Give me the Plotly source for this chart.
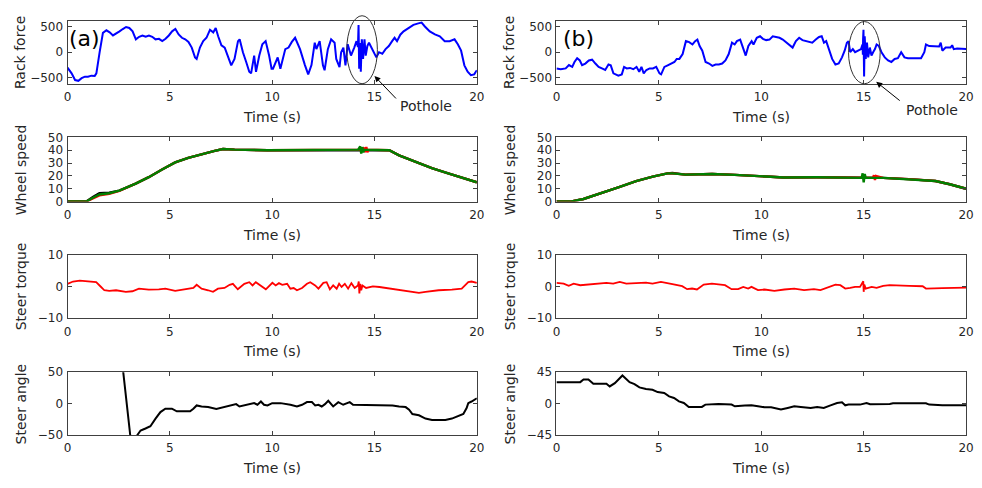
import plotly.graph_objects as go

# ---------------- DATA ----------------
# (a) Rack force
rack_a_t = [0, 0.2, 0.37, 0.53, 0.69, 0.85, 1.0, 1.17, 1.33, 1.41, 1.57, 1.73, 1.9, 2.06, 2.22, 2.38, 2.54,
            2.7, 2.86, 3.02, 3.18, 3.34, 3.5, 3.66, 3.82, 3.98, 4.14, 4.3, 4.47, 4.63, 4.79, 4.95, 5.11, 5.27,
            5.43, 5.59, 5.75, 5.91, 6.07, 6.23, 6.31, 6.47, 6.63, 6.79, 6.96, 7.12, 7.24, 7.36, 7.52, 7.68,
            7.84, 8.0, 8.16, 8.33, 8.41, 8.57, 8.73, 8.88, 8.97, 9.12, 9.21, 9.37, 9.52, 9.68, 9.85, 9.97,
            10.04, 10.15, 10.27, 10.4, 10.64, 10.8, 10.96, 11.12, 11.36, 11.6, 11.76, 11.92, 12.08, 12.16,
            12.32, 12.48, 12.56, 12.72, 12.88, 13.05, 13.13, 13.29, 13.37, 13.48, 13.58, 13.69, 13.85, 14.01,
            14.12, 14.19, 14.22, 14.25, 14.29, 14.33, 14.38, 14.44, 14.51, 14.57, 14.65, 14.73, 14.86, 14.97,
            15.09, 15.22, 15.38, 15.54, 15.7, 15.86, 15.98, 16.1, 16.26, 16.42, 16.66, 16.9, 17.14, 17.3,
            17.46, 17.7, 17.95, 18.19, 18.43, 18.67, 18.91, 19.07, 19.23, 19.39, 19.55, 19.71, 19.87, 20.0]
rack_a_v = [-300, -410, -540, -555, -505, -475, -475, -455, -460, -410, 0, 375, 425, 385, 325, 360, 405,
            450, 490, 470, 405, 250, 300, 325, 300, 325, 300, 250, 260, 215, 260, 325, 405, 450,
            345, 280, 250, 200, 90, -100, -130, 90, 215, 280, 435, 385, 470, 310, 135, 90,
            -65, -255, -130, 215, 250, 0, -190, -380, -410, -65, -380, -65, 155, 215, -65, -320,
            -320, -225, -100, -320, 60, 90, 200, 280, 60, -250, -430, -250, 185, 60,
            215, -255, -350, 60, 250, 185, -130, -290, 0, 90, -255, 155, -65, 90,
            215, 100, 530, -320, 180, -380, 250, -130, 250, -65, 120, 185, 90, 0,
            -100, 0, -30, 60, 120, 215, 280, 215, 340, 405, 470, 530, 560, 575,
            500, 405, 345, 310, 215, 215, 250, 155, 30, -255, -380, -445, -430, -350]

# (b) Rack force
rack_b_t = [0, 0.21, 0.45, 0.61, 0.77, 0.88, 1.01, 1.14, 1.25, 1.41, 1.58, 1.74, 1.9, 2.06, 2.22, 2.38, 2.54,
            2.65, 2.78, 3.02, 3.19, 3.3, 3.43, 3.59, 3.75, 3.91, 4.04, 4.15, 4.26, 4.39, 4.55, 4.71, 4.87,
            5.03, 5.11, 5.27, 5.43, 5.59, 5.76, 5.87, 6.0, 6.16, 6.32, 6.48, 6.64, 6.77, 6.88, 6.99, 7.12,
            7.28, 7.45, 7.61, 7.77, 7.93, 8.09, 8.25, 8.41, 8.57, 8.7, 8.81, 8.97, 9.13, 9.24, 9.37, 9.53,
            9.62, 9.78, 9.94, 10.08, 10.24, 10.4, 10.56, 10.73, 10.89, 11.05, 11.21, 11.37, 11.53, 11.69,
            11.85, 12.01, 12.17, 12.33, 12.49, 12.66, 12.82, 12.95, 13.06, 13.17, 13.3, 13.46, 13.62, 13.78,
            13.94, 14.07, 14.18, 14.26, 14.34, 14.47, 14.58, 14.74, 14.87, 14.94, 14.96, 14.97, 14.98, 14.99,
            15.02, 15.05, 15.1, 15.16, 15.22, 15.3, 15.38, 15.46, 15.55, 15.63, 15.74, 15.87, 16.03, 16.19,
            16.35, 16.51, 16.67, 16.83, 16.99, 17.16, 17.48, 17.8, 17.96, 18.04, 18.2, 18.44, 18.68, 18.76,
            18.84, 19.0, 19.24, 19.32, 19.4, 19.56, 19.8, 20.0]
rack_b_v = [-315, -330, -315, -250, -285, -190, -115, -160, -250, -220, -160, -145, -220, -285, -315, -345, -240,
            -255, -410, -455, -430, -285, -315, -305, -330, -285, -380, -285, -410, -345, -315, -315, -285,
            -410, -430, -285, -255, -220, -190, -130, -130, -35, 215, 195, 150, 215, 245, 120, 30,
            -190, -220, -265, -240, -240, -220, -160, -35, 185, 150, 215, 245, 60, -65, 120, 215,
            150, 280, 310, 260, 235, 245, 310, 295, 280, 245, 195, 135, 90, 215,
            280, 235, 215, 195, 185, 245, 295, 310, 185, 215, 60, -130, -240, -220,
            -100, 30, 185, 215, 0, 60, 0, 30, 60, 150, -50, 250, -200, 435,
            -470, 310, -130, 185, -100, 90, -65, 0, 60, 150, 120, 0, -100, -160,
            -190, -130, -115, 0, -100, -115, -115, -115, 0, 150, 120, 110, 110, 185,
            30, 90, 90, 135, 60, 70, 70, 60]

# (a) Wheel speed
ws_a_black_t = [0, 0.92, 1.24, 1.56, 2.04, 2.53, 3.33, 3.97, 4.62, 5.26, 5.9, 6.55, 7.19, 7.6, 8.16, 9.77,
                11.4, 13.0, 14.5, 15.56, 15.72, 16.2, 17.0, 17.8, 18.6, 19.4, 20.0]
ws_a_black_v = [0, 0, 3.5, 6.5, 7.0, 8.5, 14, 19, 25, 30.5, 34, 37, 39.5, 41, 40.5, 40,
                40, 40.3, 40.5, 40.5, 40, 36, 31, 26, 22, 18, 15]
ws_a_red_t = [0, 0.92, 1.24, 1.56, 2.04, 2.53, 3.33, 3.97, 4.62, 5.26, 5.9, 6.55, 7.19, 7.6, 8.16, 9.77,
              11.4, 13.0, 14.4, 14.5, 14.55, 14.6, 14.65, 14.7, 15.56, 15.72, 16.2, 17.0, 17.8, 18.6, 19.4, 20.0]
ws_a_red_v = [0, 0, 2.5, 4.8, 6.0, 8.3, 14, 19, 25, 30.5, 34, 37, 39.5, 41, 40.5, 40,
              40, 40.3, 40.5, 42, 38.5, 42.5, 38.5, 40.5, 40.5, 40, 36, 31, 26, 22, 18, 15]
ws_a_green_t = [0, 0.92, 1.24, 1.56, 2.04, 2.53, 3.33, 3.97, 4.62, 5.26, 5.9, 6.55, 7.19, 7.6, 8.16, 9.77,
                11.4, 13.0, 14.2, 14.3, 14.35, 14.4, 14.45, 14.5, 15.56, 15.72, 16.2, 17.0, 17.8, 18.6, 19.4, 20.0]
ws_a_green_v = [0, 0, 3, 5.5, 6.5, 8.5, 14, 19, 25, 30.5, 34, 37, 39.5, 41, 40.5, 40,
                40, 40.3, 40.5, 43, 37.5, 42.5, 38.5, 40.5, 40.5, 40, 36, 31, 26, 22, 18, 15]

# (b) Wheel speed
ws_b_black_t = [0, 0.68, 1.32, 2.28, 3.09, 3.89, 4.7, 5.42, 5.66, 6.3, 7.6, 8.71, 10, 11.1, 12.7, 14.3,
                15.95, 17.2, 18.5, 19.2, 20]
ws_b_black_v = [0, 0, 2, 7, 11.5, 16, 19.5, 22, 22.3, 21, 21.5, 20.8, 19.5, 18.8, 19, 18.8,
                18.5, 17.5, 16, 13.5, 10]
ws_b_red_t = [0, 0.68, 1.32, 2.28, 3.09, 3.89, 4.7, 5.42, 5.66, 6.3, 7.6, 8.71, 10, 11.1, 12.7, 14.3,
              15.45, 15.5, 15.55, 15.6, 15.95, 17.2, 18.5, 19.2, 20]
ws_b_red_v = [0, 0, 2, 7, 11.5, 16, 19.5, 22, 22, 21, 21.5, 20.8, 19.5, 18.8, 19, 18.8,
              18.5, 20.5, 16.8, 20, 18.5, 17.5, 16, 13.5, 10]
ws_b_green_t = [0, 0.68, 1.32, 2.28, 3.09, 3.89, 4.7, 5.42, 5.66, 6.3, 7.6, 8.71, 10, 11.1, 12.7, 14.3,
                14.9, 14.95, 15.0, 15.05, 15.1, 15.95, 17.2, 18.5, 19.2, 20]
ws_b_green_v = [0, 0, 2, 7, 11.5, 16, 19.5, 22, 22, 21, 21.5, 20.8, 19.5, 18.8, 19, 18.8,
                18.5, 22, 15, 21.5, 18.5, 18.5, 17.5, 16, 13.5, 10]

# (a) Steer torque
tq_a_t = [0, 0.27, 0.6, 1.08, 1.4, 1.64, 1.8, 2.04, 2.37, 2.85, 3.17, 3.49, 3.97, 4.46, 4.78, 5.26, 5.74,
          6.15, 6.31, 6.55, 6.87, 7.11, 7.35, 7.67, 7.92, 8.08, 8.32, 8.64, 8.88, 9.04, 9.2, 9.44, 9.69,
          10.01, 10.17, 10.33, 10.49, 10.73, 10.89, 11.05, 11.21, 11.46, 11.7, 11.86, 12.1, 12.26, 12.5,
          12.66, 12.82, 12.98, 13.15, 13.27, 13.39, 13.55, 13.71, 13.87, 14.03, 14.19, 14.23, 14.26, 14.3,
          14.35, 14.41, 14.59, 14.92, 15.24, 15.72, 16.2, 16.69, 17.17, 17.49, 18.13, 18.78, 19.26, 19.42,
          19.58, 19.74, 20.0]
tq_a_v = [0.87, 1.59, 1.9, 1.59, 1.38, -0.15, -1.18, -1.38, -1.18, -1.69, -1.49, -0.67, -0.97, -0.87, -0.67, -1.38, -0.87,
          -0.46, 0.56, -0.67, -1.18, -1.69, -0.67, -0.46, 0.56, 0.87, -0.87, 0.87, 1.38, 0.36, 1.38, 0.36, -0.87,
          1.18, 0.36, 1.08, 0.56, 0.87, -0.67, -0.46, -1.18, -0.46, 0.87, 1.38, 0.36, -0.67, 1.18,
          1.38, -0.87, 0.36, -0.67, 0.87, -0.15, 0.87, -0.67, 1.08, -0.46, 0.36, 1.59, -2.2, 0.87,
          -1.18, 0.36, -0.46, 0.05, -0.15, -0.67, -1.18, -1.49, -2.0, -1.69, -1.18, -0.97, -0.67, 0.36,
          1.38, 1.59, 1.18]

# (b) Steer torque
tq_b_t = [0, 0.35, 0.6, 0.84, 1.16, 1.48, 1.96, 2.44, 2.77, 3.09, 3.41, 3.89, 4.37, 4.69, 5.1, 5.66, 6.14,
          6.38, 6.62, 6.86, 7.19, 7.59, 7.91, 8.23, 8.55, 8.87, 9.12, 9.36, 9.52, 9.84, 10.16, 10.64, 11.13,
          11.61, 12.09, 12.57, 12.89, 13.22, 13.62, 13.86, 14.1, 14.34, 14.58, 14.82, 14.98, 15.0, 15.03,
          15.1, 15.39, 15.63, 15.95, 16.27, 16.75, 17.23, 17.88, 18.04, 18.84, 19.49, 20.0]
tq_b_v = [1.15, 0.94, 0.21, 0.94, 0.42, 0.63, 0.94, 1.15, 0.94, 1.46, 0.94, 1.15, 1.25, 0.94, 1.46, 0.73, 0.1,
          -0.83, -0.63, -0.94, 0.63, 0.94, 0.73, 0.42, -0.83, -0.83, -0.1, -0.63, -0.1, -1.15, -0.94, -1.35, -0.94,
          -0.63, -1.15, -0.83, -1.15, -0.42, 0.63, 0.42, -0.63, -0.42, -0.1, -0.1, 1.67, -1.67, 0.63,
          -0.63, -0.1, -0.42, 0.21, 0.42, 0.42, 0.21, 0.1, -0.63, -0.52, -0.42, -0.31]

# (a) Steer angle
ang_a_t = [2.4, 2.72, 3.06, 3.2, 3.41, 3.57, 3.81, 4.05, 4.3, 4.54, 4.78, 5.1, 5.34, 5.99, 6.15, 6.31, 6.55,
           6.87, 7.27, 7.67, 8.0, 8.24, 8.4, 8.72, 9.12, 9.28, 9.45, 9.6, 9.77, 10.0, 10.41, 10.89, 11.21,
           11.46, 11.7, 11.94, 12.1, 12.26, 12.42, 12.58, 12.74, 12.98, 13.23, 13.47, 13.63, 13.79, 13.95,
           14.27, 14.92, 15.56, 15.88, 16.2, 16.52, 16.69, 16.85, 17.17, 17.49, 17.81, 18.46, 18.78, 19.1,
           19.34, 19.5, 19.58, 19.74, 20.0]
ang_a_v = [145, 50, -50, -90, -50, -42.7, -39.5, -35.9, -23.8, -13.4, -8.1, -8.1, -12.3, -12.3, -8.1, -2.9, -4.5,
           -5.5, -8.6, -5.5, -1.8, -0.8, -4.5, -1.8, 0.8, -1.8, 3.4, -1.8, -2.9, 0.8, 0.8, -1.8, -4.5,
           -1.8, 2.4, 2.4, -2.9, -1.8, -4.5, -0.8, 4.5, -4.5, 2.4, -1.8, 0.8, 2.4, -1.8,
           -1.8, -1.8, -1.8, -2.9, -4.5, -5.5, -9.7, -16.5, -18.6, -23.8, -25.9, -25.9, -23.8, -20.2,
           -16.5, -7.1, 0.8, 3.4, 8.6]

# (b) Steer angle
ang_b_t = [0, 1.16, 1.32, 1.56, 1.8, 2.44, 2.6, 2.85, 3.22, 3.57, 3.81, 4.05, 4.37, 4.69, 4.94, 5.26, 5.5,
           5.74, 5.98, 6.22, 6.46, 7.1, 7.27, 7.91, 8.55, 8.71, 9.2, 9.52, 9.84, 10.16, 10.48, 10.96, 11.29,
           11.61, 11.93, 12.41, 12.73, 13.05, 13.38, 13.7, 13.94, 14.1, 14.26, 14.82, 15.14, 15.31, 16.27,
           16.43, 18.04, 18.2, 18.84, 20.0]
ang_b_v = [30.8, 30.8, 34.6, 34.6, 28.4, 28.4, 24.6, 29.4, 40.3, 30.8, 28.0, 23.2, 20.9, 19.9, 16.6, 15.2, 10.4,
           8.1, 3.3, 0.9, -4.7, -4.7, -1.4, -0.5, -1.4, -3.8, -2.8, -2.4, -3.8, -5.2, -5.2, -8.5, -6.2,
           -3.8, -4.7, -6.2, -4.7, -6.2, -2.4, 0.9, 1.9, -2.4, -1.4, -1.4, 0.9, -0.9, -0.5,
           0.5, 0.5, -1.4, -2.4, -2.4]

x_ticks = [0, 5, 10, 15, 20]
rack_ticks = [-500, 0, 500]
speed_ticks = [0, 10, 20, 30, 40, 50]
torque_ticks = [-10, 0, 10]
angle_a_ticks = [-50, 0, 50]
angle_b_ticks = [-45, 0, 45]
y_titles = ["Rack force", "Wheel speed", "Steer torque", "Steer angle"]
x_title = "Time (s)"
panel_labels = ["(a)", "(b)"]
pothole_label = "Pothole"

# ---------------- LAYOUT ----------------
W, H = 982, 488
col_px = [(64.3, 478.7), (559.3, 974.0)]
row_px = [(14.3, 79.0), (134.3, 200.3), (255.3, 320.3), (376.0, 440.7)]
y_ranges = {
    0: [[-612, 608], [-612, 608]],
    1: [[0, 50], [0, 50]],
    2: [[-10, 10], [-10, 10]],
    3: [[-50, 50], [-45, 45]],
}
y_tickvals = {0: [rack_ticks, rack_ticks], 1: [speed_ticks, speed_ticks],
              2: [torque_ticks, torque_ticks], 3: [angle_a_ticks, angle_b_ticks]}

FAM = "DejaVu Sans, Verdana, sans-serif"
TICKFONT = dict(family=FAM, size=12, color="#262626")
TITLEFONT = dict(family=FAM, size=14, color="#262626")
AXCOL = "#404040"

fig = go.Figure()
layout = dict(width=W, height=H, margin=dict(l=0, r=0, t=0, b=0),
              paper_bgcolor="white", plot_bgcolor="white", showlegend=False)
annotations = []

def axname(i):
    return "" if i == 1 else str(i)

series = {
    (0, 0): [(rack_a_t, rack_a_v, "#0000FF", 2.0)],
    (0, 1): [(rack_b_t, rack_b_v, "#0000FF", 2.0)],
    (1, 0): [(ws_a_black_t, ws_a_black_v, "#000000", 2.4), (ws_a_red_t, ws_a_red_v, "#FF0000", 2.4),
             (ws_a_green_t, ws_a_green_v, "#008000", 2.4)],
    (1, 1): [(ws_b_black_t, ws_b_black_v, "#000000", 2.4), (ws_b_red_t, ws_b_red_v, "#FF0000", 2.4),
             (ws_b_green_t, ws_b_green_v, "#008000", 2.4)],
    (2, 0): [(tq_a_t, tq_a_v, "#FF0000", 1.8)],
    (2, 1): [(tq_b_t, tq_b_v, "#FF0000", 1.8)],
    (3, 0): [(ang_a_t, ang_a_v, "#000000", 2.0)],
    (3, 1): [(ang_b_t, ang_b_v, "#000000", 2.0)],
}

idx = 0
for r in range(4):
    for c in range(2):
        idx += 1
        n = axname(idx)
        x0, x1 = col_px[c]
        top, bot = row_px[r]
        layout["xaxis" + n] = dict(
            domain=[x0 / W, x1 / W], anchor="y" + n, range=[0, 20],
            tickvals=x_ticks, ticks="inside", ticklen=4, tickcolor=AXCOL, tickwidth=1,
            showline=True, linecolor=AXCOL, linewidth=1, mirror="ticks",
            showgrid=False, zeroline=False, tickfont=TICKFONT, ticklabelstandoff=2)
        layout["yaxis" + n] = dict(
            domain=[1 - bot / H, 1 - top / H], anchor="x" + n, range=y_ranges[r][c],
            tickvals=y_tickvals[r][c], ticks="inside", ticklen=4, tickcolor=AXCOL, tickwidth=1,
            showline=True, linecolor=AXCOL, linewidth=1, mirror="ticks",
            showgrid=False, zeroline=False, tickfont=TICKFONT, ticklabelstandoff=1)
        for (tx, vy, col, lw) in series[(r, c)]:
            fig.add_trace(go.Scatter(x=tx, y=vy, mode="lines", line=dict(color=col, width=lw),
                                     xaxis="x" + n, yaxis="y" + n, hoverinfo="skip"))
        # x title
        annotations.append(dict(text=x_title, xref="paper", yref="paper",
                                x=(x0 + x1) / 2 / W, y=1 - (bot + 34) / H,
                                xanchor="center", yanchor="middle", showarrow=False, font=TITLEFONT))
        # y title
        annotations.append(dict(text=y_titles[r], xref="paper", yref="paper",
                                x=(17 if c == 0 else 512) / W, y=1 - (top + bot) / 2 / H,
                                xanchor="center", yanchor="middle", textangle=-90,
                                showarrow=False, font=TITLEFONT))

# panel labels
for c, lab in enumerate(panel_labels):
    annotations.append(dict(text=lab, xref="paper", yref="paper",
                            x=(81 if c == 0 else 582) / W, y=1 - 32 / H,
                            xanchor="center", yanchor="middle", showarrow=False,
                            font=dict(family=FAM, size=22, color="#000000")))

# pothole text and arrows
for (tx, ty, hx, hy, sx, sy) in [(427, 102, 375, 71, 398, 95), (939, 106, 883, 77, 908, 97)]:
    annotations.append(dict(text=pothole_label, xref="paper", yref="paper", x=tx / W, y=1 - ty / H,
                            xanchor="center", yanchor="middle", showarrow=False, font=TITLEFONT))
    annotations.append(dict(text="", xref="paper", yref="paper", x=hx / W, y=1 - hy / H,
                            ax=sx - hx, ay=sy - hy, showarrow=True, arrowhead=2, arrowsize=1.2,
                            arrowwidth=1, arrowcolor="#000000"))

layout["annotations"] = annotations
layout["shapes"] = [
    dict(type="circle", xref="paper", yref="paper", x0=347 / W, x1=378 / W,
         y0=1 - 79 / H, y1=1 - 9 / H, line=dict(color="#333333", width=1)),
    dict(type="circle", xref="paper", yref="paper", x0=855 / W, x1=887 / W,
         y0=1 - 79 / H, y1=1 - 15 / H, line=dict(color="#333333", width=1)),
]
fig.update_layout(**layout)
fig.write_html("out.html")
